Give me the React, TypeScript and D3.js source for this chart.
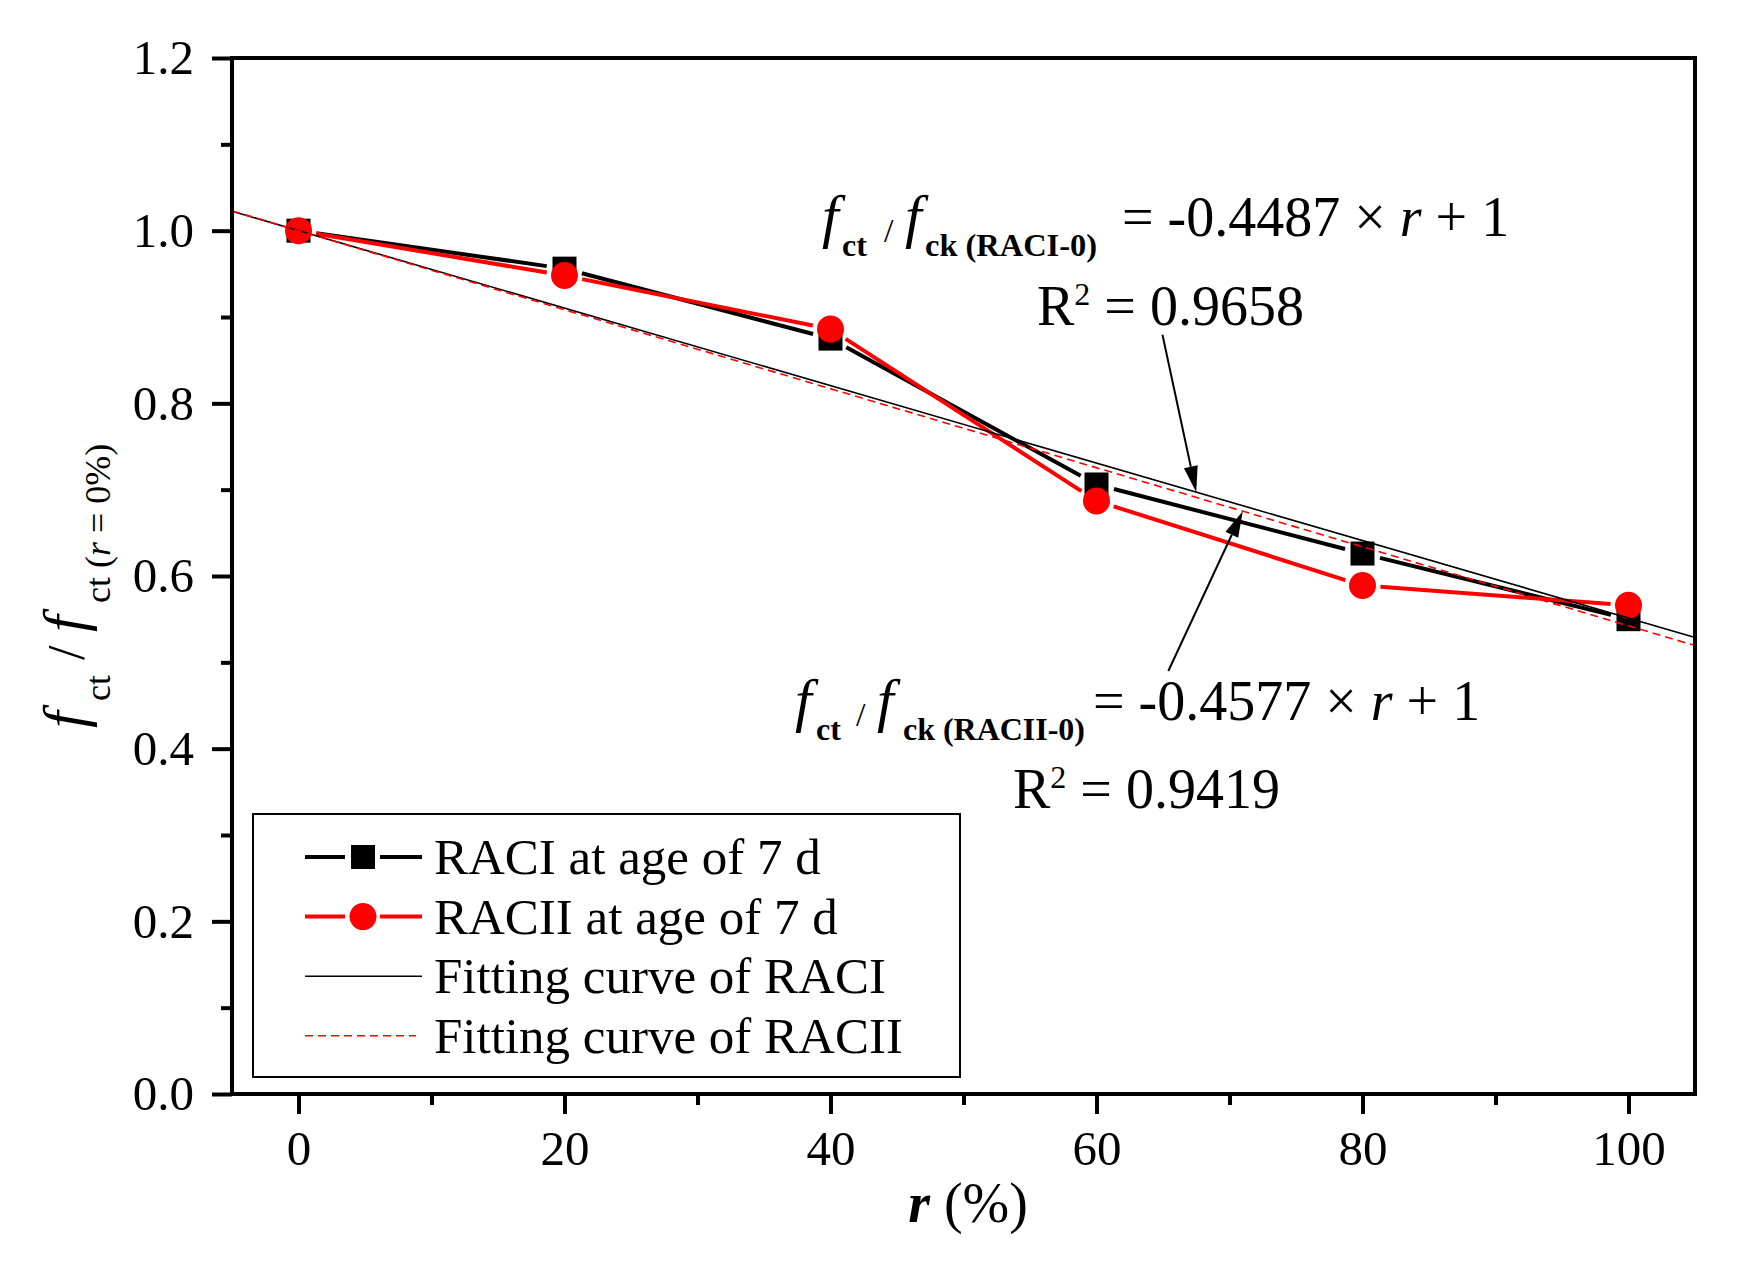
import React, { useEffect, useRef } from "react";
import * as d3 from "d3";

const WIDTH = 1757;
const HEIGHT = 1261;
const FONT = "'Liberation Serif', 'Times New Roman', serif";

// replacement ratio r (%) and normalised splitting tensile strength
const replacementRatios = [0, 20, 40, 60, 80, 100];
const raciValues = [1.0, 0.956, 0.875, 0.706, 0.626, 0.55];
const raciiValues = [1.0, 0.948, 0.886, 0.687, 0.589, 0.566];

// linear fits: f = 1 - slope * r
const raciSlope = 0.4487;
const raciiSlope = 0.4577;
const raciR2 = "0.9658";
const raciiR2 = "0.9419";

const xTicks = [0, 20, 40, 60, 80, 100];
const xMinorTicks = [10, 30, 50, 70, 90];
const yTicks = [0, 0.2, 0.4, 0.6, 0.8, 1.0, 1.2];
const yMinorTicks = [0.1, 0.3, 0.5, 0.7, 0.9, 1.1];

const legendLabels = [
  "RACI at age of 7 d",
  "RACII at age of 7 d",
  "Fitting curve of RACI",
  "Fitting curve of RACII",
];

export default function App() {
  const ref = useRef<SVGSVGElement>(null);

  useEffect(() => {
    if (!ref.current) return;
    const svg = d3.select(ref.current);
    svg.selectAll("*").remove();

    const x = d3.scaleLinear().domain([-5, 105]).range([232, 1695]);
    const y = d3.scaleLinear().domain([0, 1.2]).range([1094, 58]);

    const g = svg.append("g");

    // axes
    const styleAxis = (sel: any) => {
      sel.select(".domain").remove();
      sel.selectAll("line").attr("stroke", "#000").attr("stroke-width", 4);
      sel
        .selectAll("text")
        .attr("font-family", FONT)
        .attr("font-size", 49)
        .attr("fill", "#000");
    };

    g.append("g")
      .attr("transform", `translate(0,${y(0)})`)
      .call(d3.axisBottom(x).tickValues(xTicks).tickSize(20).tickPadding(16).tickFormat(d3.format("d")))
      .call(styleAxis);
    g.append("g")
      .attr("transform", `translate(0,${y(0)})`)
      .call(d3.axisBottom(x).tickValues(xMinorTicks).tickSize(11).tickFormat(() => ""))
      .call(styleAxis);
    g.append("g")
      .attr("transform", `translate(${x(-5)},0)`)
      .call(d3.axisLeft(y).tickValues(yTicks).tickSize(20).tickPadding(18).tickFormat(d3.format(".1f")))
      .call(styleAxis);
    g.append("g")
      .attr("transform", `translate(${x(-5)},0)`)
      .call(d3.axisLeft(y).tickValues(yMinorTicks).tickSize(11).tickFormat(() => ""))
      .call(styleAxis);

    // data line with gaps around the markers
    const drawSeries = (values: number[], color: string) => {
      const pts = replacementRatios.map((r, i) => [x(r), y(values[i])]);
      const gap = 18;
      for (let i = 0; i < pts.length - 1; i++) {
        const [x0, y0] = pts[i];
        const [x1, y1] = pts[i + 1];
        const len = Math.hypot(x1 - x0, y1 - y0);
        const ux = (x1 - x0) / len;
        const uy = (y1 - y0) / len;
        g.append("line")
          .attr("x1", x0 + ux * gap)
          .attr("y1", y0 + uy * gap)
          .attr("x2", x1 - ux * gap)
          .attr("y2", y1 - uy * gap)
          .attr("stroke", color)
          .attr("stroke-width", 4);
      }
    };

    drawSeries(raciValues, "#000");
    g.selectAll(".sq")
      .data(replacementRatios)
      .enter()
      .append("rect")
      .attr("x", (d) => x(d) - 12)
      .attr("y", (d, i) => y(raciValues[i]) - 12)
      .attr("width", 24)
      .attr("height", 24)
      .attr("fill", "#000");

    drawSeries(raciiValues, "#ff0000");
    g.selectAll(".ci")
      .data(replacementRatios)
      .enter()
      .append("circle")
      .attr("cx", (d) => x(d))
      .attr("cy", (d, i) => y(raciiValues[i]))
      .attr("r", 13.5)
      .attr("fill", "#ff0000");

    // fitting lines across the whole frame
    const fitLine = d3
      .line<number>()
      .x((r) => x(r))
      .y((r) => y(1 - (raciSlope * r) / 100));
    const fitLine2 = d3
      .line<number>()
      .x((r) => x(r))
      .y((r) => y(1 - (raciiSlope * r) / 100));
    g.append("path")
      .attr("d", fitLine([-5, 105]))
      .attr("fill", "none")
      .attr("stroke", "#000")
      .attr("stroke-width", 1.6);
    g.append("path")
      .attr("d", fitLine2([-5, 105]))
      .attr("fill", "none")
      .attr("stroke", "#ff0000")
      .attr("stroke-width", 1.6)
      .attr("stroke-dasharray", "8,5");

    // frame
    g.append("rect")
      .attr("x", x(-5))
      .attr("y", y(1.2))
      .attr("width", x(105) - x(-5))
      .attr("height", y(0) - y(1.2))
      .attr("fill", "none")
      .attr("stroke", "#000")
      .attr("stroke-width", 4);

    // arrows pointing at the fit lines
    const arrow = (from: number[], to: number[]) => {
      const [x0, y0] = [x(from[0]), y(from[1])];
      const [x1, y1] = [x(to[0]), y(to[1])];
      const len = Math.hypot(x1 - x0, y1 - y0);
      const ux = (x1 - x0) / len;
      const uy = (y1 - y0) / len;
      const bx = x1 - ux * 26;
      const by = y1 - uy * 26;
      g.append("line")
        .attr("x1", x0)
        .attr("y1", y0)
        .attr("x2", bx)
        .attr("y2", by)
        .attr("stroke", "#000")
        .attr("stroke-width", 2);
      g.append("polygon")
        .attr(
          "points",
          [
            [x1, y1],
            [bx - uy * 7, by + ux * 7],
            [bx + uy * 7, by - ux * 7],
          ]
            .map((p) => p.join(","))
            .join(" ")
        )
        .attr("fill", "#000");
    };
    arrow([64.96, 0.8795], [67.5, 1 - raciSlope * 0.675]);
    arrow([65.4, 0.49], [71.0, 1 - raciiSlope * 0.71]);

    // equations
    const formula = (
      pos: { f: number; ct: number; sl: number; f2: number; ck: number; ckw: number; eq: number },
      base: number,
      sub: string,
      slope: number
    ) => {
      const t = g
        .append("text")
        .attr("font-family", FONT)
        .attr("font-size", 56)
        .attr("fill", "#000");
      t.append("tspan").attr("x", pos.f).attr("y", base).attr("font-style", "italic").attr("font-size", 60).text("f");
      t.append("tspan").attr("x", pos.ct).attr("y", base + 20).attr("font-size", 32).attr("font-weight", "bold").text("ct");
      t.append("tspan").attr("x", pos.sl).attr("y", base + 6).attr("font-size", 34).text("/");
      t.append("tspan").attr("x", pos.f2).attr("y", base).attr("font-style", "italic").attr("font-size", 60).text("f");
      t.append("tspan")
        .attr("x", pos.ck)
        .attr("y", base + 20)
        .attr("font-size", 32)
        .attr("font-weight", "bold")
        .attr("textLength", pos.ckw)
        .attr("lengthAdjust", "spacingAndGlyphs")
        .text(`ck (${sub})`);
      t.append("tspan").attr("x", pos.eq).attr("y", base).text(`= -${slope} \u00d7 `);
      t.append("tspan").attr("font-style", "italic").text("r");
      t.append("tspan").text(" + 1");
    };
    const rSquared = (x0: number, base: number, value: string) => {
      const t = g
        .append("text")
        .attr("x", x0)
        .attr("y", base)
        .attr("font-family", FONT)
        .attr("font-size", 56)
        .attr("fill", "#000");
      t.append("tspan").text("R");
      t.append("tspan").attr("font-size", 32).attr("dy", -20).text("2");
      t.append("tspan").attr("dy", 20).text(` = ${value}`);
    };

    formula({ f: 822, ct: 842, sl: 884, f2: 905, ck: 925, ckw: 172, eq: 1122 }, 236, "RACI-0", raciSlope);
    rSquared(1037, 325, raciR2);
    formula({ f: 795, ct: 816, sl: 856, f2: 877, ck: 903, ckw: 182, eq: 1093 }, 720, "RACII-0", raciiSlope);
    rSquared(1013, 808, raciiR2);

    // axis titles
    const xt = svg
      .append("text")
      .attr("x", 968)
      .attr("y", 1222)
      .attr("text-anchor", "middle")
      .attr("font-family", FONT)
      .attr("font-size", 56)
      .attr("fill", "#000");
    xt.append("tspan").attr("font-style", "italic").attr("font-weight", "bold").text("r");
    xt.append("tspan").text(" (%)");

    const yt = svg
      .append("text")
      .attr("transform", "translate(84,0) rotate(-90)")
      .attr("font-family", FONT)
      .attr("font-size", 56)
      .attr("fill", "#000");
    yt.append("tspan").attr("x", -728).attr("y", 0).attr("font-style", "italic").attr("font-size", 60).text("f");
    yt.append("tspan").attr("x", -701).attr("y", 26).attr("font-size", 36).text("ct");
    yt.append("tspan").attr("x", -660).attr("y", 0).attr("font-size", 52).text("/");
    yt.append("tspan").attr("x", -632).attr("y", 0).attr("font-style", "italic").attr("font-size", 60).text("f");
    yt.append("tspan").attr("x", -603).attr("y", 26).attr("font-size", 36).text("ct (");
    yt.append("tspan").attr("font-size", 36).attr("font-style", "italic").text("r");
    yt.append("tspan").attr("font-size", 36).text(" = 0%)");

    // legend
    const legend = svg.append("g");
    legend
      .append("rect")
      .attr("x", 253)
      .attr("y", 814)
      .attr("width", 707)
      .attr("height", 263)
      .attr("fill", "#fff")
      .attr("stroke", "#000")
      .attr("stroke-width", 2);

    const rows = legendLabels.map((label, i) => ({ label, cy: 857 + i * 59.6 }));
    rows.forEach((row, i) => {
      if (i < 2) {
        const color = i === 0 ? "#000" : "#ff0000";
        legend.append("line").attr("x1", 305).attr("x2", 345).attr("y1", row.cy).attr("y2", row.cy).attr("stroke", color).attr("stroke-width", 4);
        legend.append("line").attr("x1", 380).attr("x2", 422).attr("y1", row.cy).attr("y2", row.cy).attr("stroke", color).attr("stroke-width", 4);
        if (i === 0) {
          legend.append("rect").attr("x", 351).attr("y", row.cy - 12).attr("width", 24).attr("height", 24).attr("fill", "#000");
        } else {
          legend.append("circle").attr("cx", 363).attr("cy", row.cy).attr("r", 13.5).attr("fill", "#ff0000");
        }
      } else {
        legend
          .append("line")
          .attr("x1", 305)
          .attr("x2", i === 2 ? 422 : 416)
          .attr("y1", row.cy)
          .attr("y2", row.cy)
          .attr("stroke", i === 2 ? "#000" : "#ff0000")
          .attr("stroke-width", 1.6)
          .attr("stroke-dasharray", i === 2 ? null : "8,5");
      }
      legend
        .append("text")
        .attr("x", 434)
        .attr("y", row.cy + 17)
        .attr("font-family", FONT)
        .attr("font-size", 51)
        .attr("fill", "#000")
        .text(row.label);
    });
  }, []);

  return (
    <svg
      ref={ref}
      width={WIDTH}
      height={HEIGHT}
      style={{ position: "absolute", left: 0, top: 0, background: "#fff" }}
    ></svg>
  );
}
